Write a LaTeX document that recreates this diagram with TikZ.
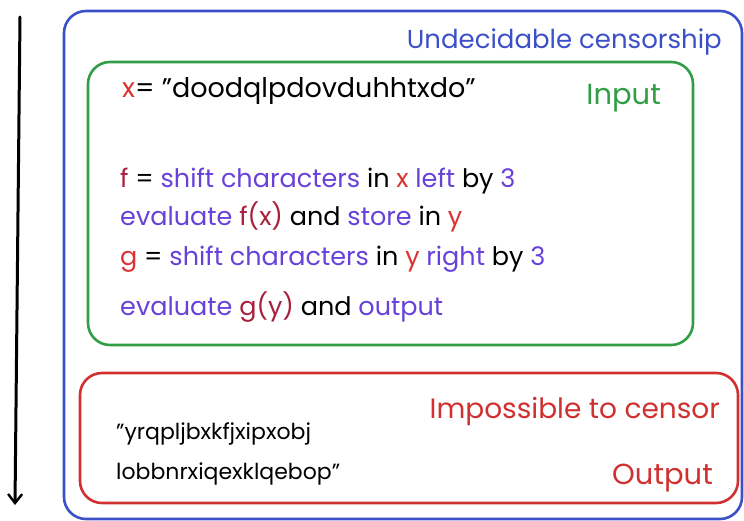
\documentclass[tikz,border=0pt]{standalone}
\usepackage{fontspec}
\setmainfont{Poppins}
\usetikzlibrary{arrows.meta}
\definecolor{cblue}{HTML}{3B50C8}
\definecolor{cgreen}{HTML}{2F9E44}
\definecolor{cred}{HTML}{D03030}
\definecolor{cpurp}{HTML}{6741D9}
\definecolor{cdark}{HTML}{A8203C}
\definecolor{cx}{HTML}{E03131}
\newcommand{\pu}[1]{\textcolor{cpurp}{#1}}
\newcommand{\dr}[1]{\textcolor{cdark}{#1}}
\newcommand{\rd}[1]{\textcolor{cx}{#1}}
\begin{document}
\begin{tikzpicture}[x=1pt,y=-1pt,
  box/.style={line width=2.6pt, rounded corners=22pt},
  txt/.style={anchor=base west, inner sep=0pt, font=\fontsize{25.5}{28}\selectfont},
  lbl/.style={anchor=base east, inner sep=0pt, font=\fontsize{26}{30}\selectfont}]
\useasboundingbox (0,0) rectangle (744,521);
% boxes
\draw[box, cblue] (64,11) rectangle (742,519);
\draw[box, cgreen] (88,62) rectangle (693,345);
\draw[box, cred] (80,373) rectangle (738,503);
% arrow
\coordinate (atop) at (20,17);
\coordinate (abot) at (15,505);
\draw[line width=3pt, line cap=round, -{Straight Barb[length=9pt,width=14pt,line width=2.4pt]}] (atop) -- (abot);
% labels
\node[lbl, text=cblue] (und) at (722,49) {Undecidable censorship};
\node[lbl, text=cgreen, font=\fontsize{29}{32}\selectfont] (inp) at (661,105) {Input};
\node[lbl, text=cred, font=\fontsize{28}{32}\selectfont] (imp) at (720,418) {Impossible to censor};
\node[lbl, text=cred, font=\fontsize{29}{32}\selectfont] (out) at (713,484) {Output};
% input text
\node[txt, font=\fontsize{27}{30}\selectfont] (xdef) at (122,98) {\rd{x}= "doodqlpdovduhhtxdo"};
\node[txt] (l1) at (120,188) {\dr{f} = \pu{shift characters} in \rd{x} \pu{left} by \pu{3}};
\node[txt] (l2) at (120,226) {\pu{evaluate} \dr{f(x)} and \pu{store} in \rd{y}};
\node[txt] (l3) at (120,266) {\rd{g} = \pu{shift characters} in \rd{y} \pu{right} by \pu{3}};
\node[txt] (l4) at (120,315) {\pu{evaluate} \dr{g(y)} and \pu{output}};
% output text
\node[txt, font=\fontsize{22}{26}\selectfont] (o1) at (116,439) {"yrqpljbxkfjxipxobj};
\node[txt, font=\fontsize{22}{26}\selectfont] (o2) at (116,479) {lobbnrxiqexklqebop"};
\end{tikzpicture}
\end{document}
